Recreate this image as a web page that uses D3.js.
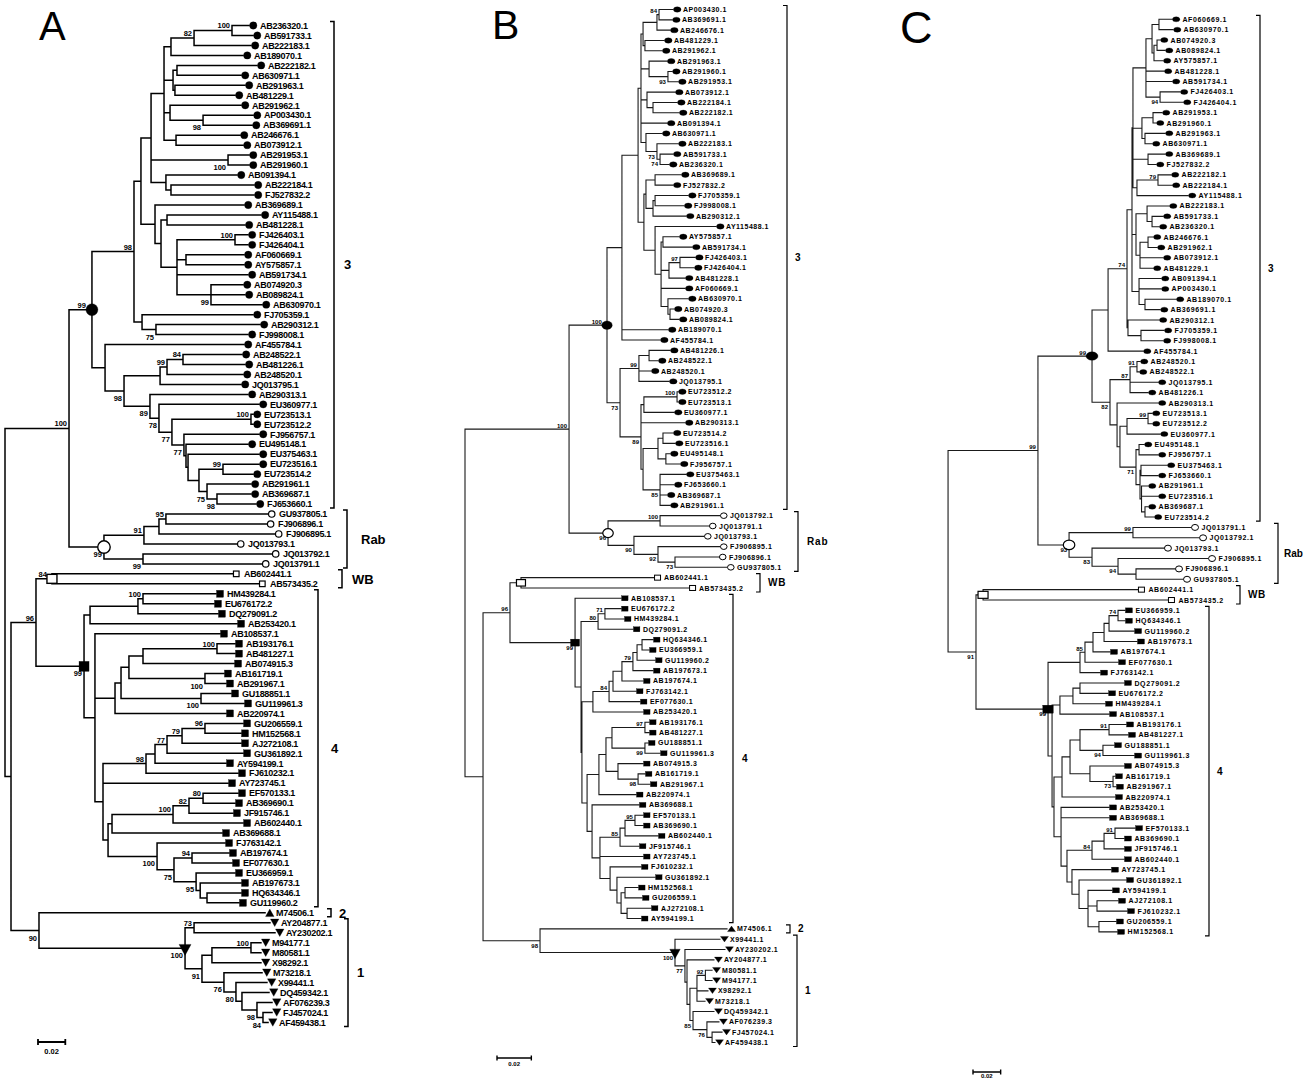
<!DOCTYPE html>
<html><head><meta charset="utf-8">
<script src="https://cdn.jsdelivr.net/npm/d3@7/dist/d3.min.js"></script>
<style>
html,body{margin:0;padding:0;background:#fff;}
svg{display:block;font-family:"Liberation Sans",Arial,Helvetica,sans-serif;}
</style></head><body>
<svg id="fig" width="1305" height="1079"></svg>
<script>
// ===================== DATA =====================
// Trees in Newick-like form. Value after ":" = distance from the root
// (substitutions per site); number after ")" = bootstrap support (%).
const treeA = `
(
 (
  (
   (
    (
     (
      (
       (((AB236320.1:0.1788,AB591733.1:0.1817)100:0.1663,AB222183.1:0.1802)82:0.1385,AB189070.1:0.1744):0.1216,
       ((AB222182.1:0.1846,AB630971.1:0.1729):0.1260,(AB291963.1:0.1758,AB481229.1:0.1685):0.1245):0.1231,
       (AB291962.1:0.1729,(AP003430.1:0.1817,AB369691.1:0.1810)98:0.1451):0.1209,
       (AB246676.1:0.1722,AB073912.1:0.1744):0.1253
      ):0.1165,
      (AB291953.1:0.1788,AB291960.1:0.1788)100:0.1634,
      (AB091394.1:0.1700,(AB222184.1:0.1824,FJ527832.2:0.1824):0.1216):0.1179
     ):0.1070,
     (AB369689.1:0.1751,
      ((AY115488.1:0.1875,AB481228.1:0.1758):0.1187,
       ((FJ426403.1:0.1780,FJ426404.1:0.1780)100:0.1685,(AF060669.1:0.1751,AY575857.1:0.1751):0.1326,AB591734.1:0.1780,
        (AB074920.3:0.1744,AB089824.1:0.1758,AB630970.1:0.1883)99:0.1509):0.1260
      ):0.1143
     ):0.1099
    ):0.0996,
    (FJ705359.1:0.1817,(AB290312.1:0.1868,FJ998008.1:0.1780)75:0.1106):0.1004
   )98:0.0945,
   (AF455784.1:0.1751,
    (
     (((AB248522.1:0.1736,AB481226.1:0.1758)84:0.1304,AB248520.1:0.1744)99:0.1187,JQ013795.1:0.1729):0.1136,
     (AB290313.1:0.1780,
      (EU360977.1:0.1861,
       ((EU723513.1:0.1817,EU723512.2:0.1817)100:0.1802,
        (FJ956757.1:0.1861,
         (EU495148.1:0.1780,
          (EU375463.1:0.1861,
           ((EU723516.1:0.1861,EU723514.2:0.1817)99:0.1597,
            (AB291961.1:0.1802,(AB369687.1:0.1802,FJ653660.1:0.1839)98:0.1553)75:0.1480
           ):0.1421
          ):0.1341
         ):0.1326
        )77:0.1311
       )77:0.1223
      )78:0.1128
     )89:0.1062
    )98:0.0872
   ):0.0733
  )99:0.0637,
  ((((GU937805.1:0.1927,FJ906896.1:0.1919)95:0.1179,FJ906895.1:0.1978):0.1128,JQ013793.1:0.1700)91:0.1018,
   (JQ013792.1:0.1956,JQ013791.1:0.1883)99:0.1011)99:0.0725
 )100:0.0469,
 (
  (
   (AB602441.1:0.1670,AB573435.2:0.1861)84:0.0344,
   (
    (((HM439284.1:0.1546,EU676172.2:0.1531)100:0.1011,DQ279091.2:0.1560):0.0974,AB253420.1:0.1700):0.0623,
    (AB108537.1:0.1575,
     (((((AB193176.1:0.1685,AB481227.1:0.1685)100:0.1553,AB074915.3:0.1678):0.1011,
        (AB161719.1:0.1604,AB291967.1:0.1619)100:0.1465):0.0908,
       (GU188851.1:0.1656,GU119961.3:0.1751)100:0.1436):0.0850,
      AB220974.1:0.1619):0.0806,
     (
      (((((GU206559.1:0.1744,HM152568.1:0.1729)96:0.1465,AJ272108.1:0.1729)79:0.1297,GU361892.1:0.1744)77:0.1187,AY594199.1:0.1619):0.1099,FJ610232.1:0.1707)98:0.1033,
      AY723745.1:0.1634,
      (
       ((((EF570133.1:0.1707,AB369690.1:0.1685)80:0.1451,JF915746.1:0.1670)82:0.1348,AB602440.1:0.1744)100:0.1231,AB369688.1:0.1590):0.0784,
       (FJ763142.1:0.1612,
        ((AB197674.1:0.1641,EF077630.1:0.1663)94:0.1370,
         (EU366959.1:0.1685,(AB197673.1:0.1729,(HQ634346.1:0.1729,GU119960.2:0.1714):0.1480):0.1430)95:0.1400
        )75:0.1238
       )100:0.1114
      ):0.0755
     ):0.0718
    ):0.0659
   )99:0.0579
  )96:0.0227,
  (M74506.1:0.1905,
   ((AY204877.1:0.1941,AY230202.1:0.1978)73:0.1385,
    (((M94177.1:0.1875,M80581.1:0.1875)100:0.1802,X98292.1:0.1875):0.1516,
     (M73218.1:0.1883,
      (X99441.1:0.1919,
       (DQ459342.1:0.1934,
        (AF076239.3:0.1956,(FJ457024.1:0.1956,AF459438.1:0.1927)84:0.1890)98:0.1846
       ):0.1736
      )80:0.1692
     )76:0.1604
    )91:0.1443
   )100:0.1319
  )90:0.0249
 ):0.0044
):0`;

const treeB = `
(
 (
  (
   (
    (
     (
      (((AP003430.1:0.1211,AB369691.1:0.1206)84:0.1130,AB246676.1:0.1194):0.1118,(AB481229.1:0.1159,AB291962.1:0.1147):0.1048):0.1037,
      (AB291963.1:0.1176,(AB291960.1:0.1206,AB291953.1:0.1241)93:0.1182):0.1072,
      (AB073912.1:0.1223,(AB222184.1:0.1235,AB222182.1:0.1246):0.1095):0.1060,
      AB091394.1:0.1176,
      (AB630971.1:0.1147,(AB222183.1:0.1241,(AB591733.1:0.1211,AB236320.1:0.1188)74:0.1136)73:0.1118):0.1054
     ):0.1025,
     (
      ((AB369689.1:0.1258,FJ527832.2:0.1211):0.1107,((FJ705359.1:0.1299,FJ998008.1:0.1275):0.1107,AB290312.1:0.1287):0.1095):0.1054,
      (AY115488.1:0.1462,
       ((AY575857.1:0.1246,AB591734.1:0.1322):0.1153,
        ((FJ426403.1:0.1340,FJ426404.1:0.1334)97:0.1252,AB481228.1:0.1281):0.1188,
        AF060669.1:0.1281,
        (AB630970.1:0.1299,(AB074920.3:0.1217,AB089824.1:0.1246):0.1194):0.1182
       ):0.1142
      ):0.1107
     ):0.1042
    ):0.1008,
    AB189070.1:0.1182,
    AF455784.1:0.1136
   ):0.0914,
   (
    ((AB481226.1:0.1194,AB248522.1:0.1124):0.1072,AB248520.1:0.1083,JQ013795.1:0.1188)99:0.1013,
    (
     ((EU723512.2:0.1241,EU723513.1:0.1241)100:0.1235,EU360977.1:0.1217):0.1042,
     AB290313.1:0.1281,
     (
      ((EU723514.2:0.1211,EU723516.1:0.1223):0.1153,(EU495148.1:0.1194,FJ956757.1:0.1252):0.1170):0.1124,
      (EU375463.1:0.1287,FJ653660.1:0.1217,AB369687.1:0.1176,AB291961.1:0.1194)85:0.1136
     ):0.1037
    )89:0.1025
   )73:0.0903
  )100:0.0827,
  ((JQ013792.1:0.1485,JQ013791.1:0.1421)100:0.1136,
   (JQ013793.1:0.1392,(FJ906895.1:0.1485,(FJ906896.1:0.1479,GU937805.1:0.1526)73:0.1223)92:0.1124)90:0.0984
  )96:0.0833
 )100:0.0606,
 (
  (
   (AB602441.1:0.1101,AB573435.2:0.1305):0.0326,
   (AB108537.1:0.0909,
    (
     ((EU676172.2:0.0909,HM439284.1:0.0926)71:0.0815,DQ279091.2:0.0978)80:0.0775,
     (
      (((((((HQ634346.1:0.1095,EU366959.1:0.1072):0.1031,GU119960.2:0.1107):0.1002,AB197673.1:0.1095)79:0.0978,AB197674.1:0.1037):0.0914,FJ763142.1:0.0996):0.0862,EF077630.1:0.1019)84:0.0839,AB253420.1:0.1037):0.0745,
      (
       ((((AB193176.1:0.1072,AB481227.1:0.1072)97:0.1048,(GU188851.1:0.1066,GU119961.3:0.1136)99:0.1048):0.0856,(AB074915.3:0.1037,(AB161719.1:0.1048,AB291967.1:0.1077)98:0.1008):0.0891):0.0821,AB220974.1:0.0996):0.0780,
       (AB369688.1:0.1013,
        (
         (((EF570133.1:0.1037,AB369690.1:0.1037)95:0.0990,AB602440.1:0.1124):0.0932,JF915746.1:0.1013)85:0.0903,
         AY723745.1:0.1037,
         (FJ610232.1:0.1025,(GU361892.1:0.1107,((HM152568.1:0.1008,GU206559.1:0.1031):0.0932,(AJ272108.1:0.1083,AY594199.1:0.1025):0.0944):0.0909):0.0885):0.0845
        ):0.0786
       ):0.0740
      ):0.0711
     ):0.0681
    ):0.0676
   )99:0.0641
  )96:0.0262,
  (M74506.1:0.1526,
   (X99441.1:0.1485,
    (AY230202.1:0.1514,
     (AY204877.1:0.1450,
      (((M80581.1:0.1439,M94177.1:0.1439)92:0.1400,X98292.1:0.1415,M73218.1:0.1398):0.1351,
       (DQ459342.1:0.1450,(AF076239.3:0.1479,(FJ457024.1:0.1497,AF459438.1:0.1456):0.1439)76:0.1409)85:0.1328
      ):0.1310
     ):0.1293
    )77:0.1281
   )100:0.1223
  )98:0.0437
 ):0.0105
):0`;

const treeC = `
(
 (
  (
   (
    (
     (
      (
       (
        ((AF060669.1:0.1670,AB630970.1:0.1678):0.1576,((AB074920.3:0.1584,AB089824.1:0.1620):0.1562,AY575857.1:0.1605):0.1540):0.1526,
        AB481228.1:0.1612,
        AB591734.1:0.1670,
        (FJ426403.1:0.1728,FJ426404.1:0.1750)94:0.1584
       ):0.1482,
       ((AB291953.1:0.1598,AB291960.1:0.1555):0.1533,(AB291963.1:0.1620,AB630971.1:0.1526):0.1475):0.1453,
       (AB369689.1:0.1620,FJ527832.2:0.1555):0.1497,
       ((AB222182.1:0.1663,AB222184.1:0.1670)79:0.1569,AY115488.1:0.1786):0.1417
      ):0.1388,
      ((AB222183.1:0.1649,(AB591733.1:0.1605,AB236320.1:0.1576):0.1526):0.1490,((AB246676.1:0.1533,AB291962.1:0.1562):0.1497,AB073912.1:0.1605,AB481229.1:0.1533):0.1439):0.1410,
      (AB091394.1:0.1591,AP003430.1:0.1591,(AB189070.1:0.1699,AB369691.1:0.1584):0.1475):0.1432
     ):0.1381,
     (AB290312.1:0.1576,(FJ705359.1:0.1612,FJ998008.1:0.1605):0.1446):0.1352
    )74:0.1345,
    AF455784.1:0.1461
   ):0.1208,
   (
    ((AB248520.1:0.1439,AB248522.1:0.1432)91:0.1417,JQ013795.1:0.1569,AB481226.1:0.1497)87:0.1367,
    (AB290313.1:0.1569,
     (
      ((EU723513.1:0.1526,EU723512.2:0.1526)99:0.1497,EU360977.1:0.1584):0.1345,
      ((EU495148.1:0.1468,FJ956757.1:0.1569):0.1432,
       ((EU375463.1:0.1634,FJ653660.1:0.1569):0.1446,(AB291961.1:0.1497,EU723516.1:0.1569,(AB369687.1:0.1497,EU723514.2:0.1540):0.1475):0.1450):0.1439
      )71:0.1410
     ):0.1294
    ):0.1273
   )82:0.1222
  )99:0.1092,
  ((JQ013791.1:0.1808,JQ013792.1:0.1866)99:0.1388,
   (JQ013793.1:0.1612,(FJ906895.1:0.1931,(FJ906896.1:0.1692,GU937805.1:0.1750):0.1410)94:0.1280)83:0.1092
  )93:0.0926
 )99:0.0701,
 (
  (AB602441.1:0.1424,AB573435.2:0.1641):0.0304,
  (
   ((((((EU366959.1:0.1330,HQ634346.1:0.1330)74:0.1280,GU119960.2:0.1396):0.1215,AB197673.1:0.1417):0.1179,AB197674.1:0.1222):0.1099,EF077630.1:0.1280)85:0.1041,FJ763142.1:0.1150):0.1005,
   (
    (((DQ279091.2:0.1323,EU676172.2:0.1208):0.1005,HM439284.1:0.1186):0.0954,AB108537.1:0.1215):0.0860,
    (
     ((((AB193176.1:0.1338,AB481227.1:0.1352)91:0.1215,(GU188851.1:0.1251,GU119961.3:0.1396)94:0.1171):0.1005,(AB074915.3:0.1323,(AB161719.1:0.1258,AB291967.1:0.1265)73:0.1244):0.1077):0.0933,AB220974.1:0.1258):0.0875,
     (AB253420.1:0.1215,AB369688.1:0.1215,
      ((((EF570133.1:0.1403,AB369690.1:0.1323)91:0.1258,JF915746.1:0.1323):0.1179,AB602440.1:0.1323)84:0.1092,
       (AY723745.1:0.1229,(GU361892.1:0.1338,(AY594199.1:0.1236,(AJ272108.1:0.1280,FJ610232.1:0.1345):0.1128,(GU206559.1:0.1265,HM152568.1:0.1273):0.1142):0.1063):0.0998):0.0947
      ):0.0911
     ):0.0868
    ):0.0817
   ):0.0803
  )99:0.0774
 )91:0.0253
):0.0051,
(M74506.1:0.1923,
 ((AY230202.1:0.1685,AY204877.1:0.1670):0.1446,
  X99441.1:0.1931,
  (((M80581.1:0.1735,M94177.1:0.1735)91:0.1714,X98292.1:0.1706)82:0.1612,
   (M73218.1:0.1641,(DQ459342.1:0.1714,(AF076239.3:0.1750,(AF459438.1:0.1750,FJ457024.1:0.1829)78:0.1706)78:0.1678):0.1576):0.1526
  ):0.1417
 )99:0.1359
)96:0.0296
):0`;

// Clade brackets: first and last sequence of each genotype group
const cladesA = [
  {name:"3",   first:"AB236320.1", last:"FJ653660.1"},
  {name:"Rab", first:"GU937805.1", last:"JQ013791.1"},
  {name:"WB",  first:"AB602441.1", last:"AB573435.2"},
  {name:"4",   first:"HM439284.1", last:"GU119960.2"},
  {name:"2",   first:"M74506.1",   last:"M74506.1"},
  {name:"1",   first:"AY204877.1", last:"AF459438.1"}
];
const cladesB = [
  {name:"3",   first:"AP003430.1", last:"AB291961.1"},
  {name:"Rab", first:"JQ013792.1", last:"GU937805.1"},
  {name:"WB",  first:"AB602441.1", last:"AB573435.2"},
  {name:"4",   first:"AB108537.1", last:"AY594199.1"},
  {name:"2",   first:"M74506.1",   last:"M74506.1"},
  {name:"1",   first:"X99441.1",   last:"AF459438.1"}
];
const cladesC = [
  {name:"3",   first:"AF060669.1", last:"EU723514.2"},
  {name:"Rab", first:"JQ013791.1", last:"GU937805.1"},
  {name:"WB",  first:"AB602441.1", last:"AB573435.2"},
  {name:"4",   first:"EU366959.1", last:"HM152568.1"},
  {name:"2",   first:"M74506.1",   last:"M74506.1"},
  {name:"1",   first:"AY230202.1", last:"FJ457024.1"}
];
const panelLetters = ["A", "B", "C"];
const scaleBarValue = 0.02;
const scaleBarLabel = "0.02";

// ===================== STYLE / LAYOUT =====================
const cladeStyle = {
  "3":   {shape:"circle",  filled:true,  key:"circle"},
  "Rab": {shape:"circle",  filled:false, key:"ocircle"},
  "WB":  {shape:"square",  filled:false, key:"osquare"},
  "4":   {shape:"square",  filled:true,  key:"square"},
  "2":   {shape:"triUp",   filled:true,  key:"tri"},
  "1":   {shape:"triDown", filled:true,  key:"tri"}
};
const layouts = [
 {x0:5, ppu:1365, y0:25.5, dy:9.97, stroke:"#000", sw:1.5, msw:1.2,
  lab:{size:9, ls:-0.3, dx:11}, sup:{size:7.5, above:2, below:10},
  tip:{circle:[7.4,7.4], ocircle:[6.4,6.4], square:[7,7], osquare:[5.6,5.6], tri:[8.5,7.5]},
  node:{circle:[12,12], ocircle:[12.5,12.5], square:[10,10], osquare:[10,9], tri:[12,11]},
  br:{x:{"3":334,"Rab":347,"WB":342,"4":318,"2":331,"1":348}, dx:{"3":10,"Rab":14,"WB":10,"4":13,"2":8,"1":9}, size:13, ls:{}, sw:1.5, tick:4},
  letter:{x:39, y:40, size:40},
  bar:{x:38, y:1042, ly:1054, size:7.5, tick:3}},
 {x0:465, ppu:1717, y0:9.5, dy:10.33, stroke:"#1a1a1a", sw:1.1, msw:1,
  lab:{size:7, ls:0.5, dx:10}, sup:{size:6, above:1.5, below:7},
  tip:{circle:[7.6,5.4], ocircle:[6.6,5.6], square:[6.5,5], osquare:[6,5], tri:[8,5.5]},
  node:{circle:[10.5,8.5], ocircle:[10.5,9], square:[9,7], osquare:[9,6.5], tri:[10.5,9.5]},
  br:{x:{"3":787,"Rab":798,"WB":760,"4":733,"2":790,"1":797}, dx:{"3":8,"Rab":9,"WB":8,"4":9,"2":8,"1":8}, size:10, ls:{"Rab":0.8,"WB":0.8}, sw:1.2, tick:4},
  letter:{x:492, y:39, size:41},
  bar:{x:497, y:1058, ly:1066, size:6, tick:2.5}},
 {x0:941, ppu:1383, y0:19.3, dy:10.37, stroke:"#1a1a1a", sw:1.1, msw:1,
  lab:{size:7, ls:0.6, dx:10.5}, sup:{size:6, above:1.5, below:7},
  tip:{circle:[7.4,5], ocircle:[7,6], square:[7,5], osquare:[6,5], tri:[8.5,6]},
  node:{circle:[12,8.5], ocircle:[11.5,9.5], square:[10.5,8], osquare:[10,7], tri:[13,10]},
  br:{x:{"3":1260,"Rab":1278,"WB":1240,"4":1209,"2":1270,"1":1270}, dx:{"3":8,"Rab":6,"WB":8,"4":8,"2":8,"1":8}, size:10, ls:{"WB":0.6}, sw:1.2, tick:4},
  letter:{x:900, y:43, size:45},
  bar:{x:973, y:1072, ly:1077.5, size:6, tick:2.5}}
];
const panels = [
  {tree:treeA, clades:cladesA, letter:panelLetters[0], L:layouts[0]},
  {tree:treeB, clades:cladesB, letter:panelLetters[1], L:layouts[1]},
  {tree:treeC, clades:cladesC, letter:panelLetters[2], L:layouts[2]}
];

// ===================== CODE =====================
function parseNewick(str) {
  const s = str.replace(/\s+/g, "");
  let i = 0;
  function readNode() {
    const node = {};
    if (s[i] === "(") {
      i++;
      node.children = [readNode()];
      while (s[i] === ",") { i++; node.children.push(readNode()); }
      i++; // ')'
    }
    let j = i;
    while (i < s.length && !"(),:;".includes(s[i])) i++;
    const label = s.slice(j, i);
    if (node.children) { if (label) node.support = +label; }
    else node.name = label;
    if (s[i] === ":") {
      i++; j = i;
      while (i < s.length && !"(),;".includes(s[i])) i++;
      node.dist = +s.slice(j, i);
    }
    return node;
  }
  return readNode();
}

function drawMarker(g, shape, filled, cx, cy, w, h, sw) {
  let el;
  if (shape === "circle") {
    el = g.append("ellipse").attr("cx", cx).attr("cy", cy).attr("rx", w / 2).attr("ry", h / 2);
  } else if (shape === "square") {
    el = g.append("rect").attr("x", cx - w / 2).attr("y", cy - h / 2).attr("width", w).attr("height", h);
  } else if (shape === "triUp") {
    el = g.append("path").attr("d", `M${cx - w/2},${cy + h/2}L${cx + w/2},${cy + h/2}L${cx},${cy - h/2}Z`);
  } else {
    el = g.append("path").attr("d", `M${cx - w/2},${cy - h/2}L${cx + w/2},${cy - h/2}L${cx},${cy + h/2}Z`);
  }
  el.attr("fill", filled ? "#000" : "#fff").attr("stroke", "#000").attr("stroke-width", filled ? 0.3 : sw);
}

const svg = d3.select("#fig");
svg.append("rect").attr("width", 1305).attr("height", 1079).attr("fill", "#fff");
// group opacity < 1 renders text with greyscale antialiasing (like the reference)
const canvas = svg.append("g").attr("opacity", 0.999);

function drawPanel(p) {
  const L = p.L;
  const root = d3.hierarchy(parseNewick(p.tree));
  const leaves = root.leaves();
  const x = d3.scaleLinear().domain([0, 0.1]).range([L.x0, L.x0 + L.ppu * 0.1]);
  const y = d3.scaleLinear().domain([0, leaves.length - 1]).range([L.y0, L.y0 + L.dy * (leaves.length - 1)]);
  leaves.forEach((d, k) => { d.k = k; d.py = y(k); });
  root.eachAfter(d => { if (d.children) d.py = (d.children[0].py + d.children[d.children.length - 1].py) / 2; });
  root.each(d => { d.px = x(d.data.dist || 0); });

  const g = canvas.append("g");

  // branches
  const path = d3.path();
  root.each(d => {
    if (d.parent) { path.moveTo(d.parent.px, d.py); path.lineTo(d.px, d.py); }
    if (d.children) { path.moveTo(d.px, d.children[0].py); path.lineTo(d.px, d.children[d.children.length - 1].py); }
  });
  g.append("path").attr("d", path.toString()).attr("fill", "none")
    .attr("stroke", L.stroke).attr("stroke-width", L.sw).attr("stroke-linecap", "square");

  // clades
  const idx = new Map(leaves.map(d => [d.data.name, d.k]));
  const clades = p.clades.map(c => ({...c, i0: idx.get(c.first), i1: idx.get(c.last)}))
                         .filter(c => c.i0 !== undefined && c.i1 !== undefined);
  const cladeOf = k => clades.find(c => k >= c.i0 && k <= c.i1);

  // clade root markers
  const markedNodes = new Map();
  clades.forEach(c => {
    if (c.i0 === c.i1) return;
    const st = cladeStyle[c.name];
    const mrca = leaves[c.i0].ancestors().find(a => a.leaves().some(l => l.k === c.i1));
    const [w, h] = L.node[st.key];
    markedNodes.set(mrca, w);
    drawMarker(g, st.shape, st.filled, mrca.px, mrca.py + (st.shape === "triDown" ? h * 0.15 : 0), w, h, L.msw + 0.2);
  });

  // tips
  leaves.forEach(d => {
    const c = cladeOf(d.k);
    const st = cladeStyle[c ? c.name : "3"];
    const [w, h] = L.tip[st.key];
    drawMarker(g, st.shape, st.filled, d.px + w / 2 + 0.5, d.py, w, h, L.msw);
    g.append("text").attr("x", d.px + L.lab.dx).attr("y", d.py).attr("dy", "0.36em")
      .attr("font-size", L.lab.size).attr("font-weight", "bold").attr("letter-spacing", L.lab.ls)
      .attr("fill", "#000").text(d.data.name);
  });

  // bootstrap support
  root.each(d => {
    if (!d.children || d.data.support == null || !d.parent) return;
    const first = d.parent.children[0] === d;
    const mw = markedNodes.get(d);
    const xx = first ? d.px - (mw ? mw / 2 : 2) : d.px - 2;
    const yy = first ? d.py - L.sup.above : d.py + L.sup.below;
    g.append("text").attr("x", xx).attr("y", yy).attr("text-anchor", "end")
      .attr("font-size", L.sup.size).attr("font-weight", "bold").attr("fill", "#000")
      .text(d.data.support);
  });

  // brackets
  clades.forEach(c => {
    const bx = L.br.x[c.name];
    const y1 = y(c.i0) - 4, y2 = y(c.i1) + 4;
    const bp = d3.path();
    bp.moveTo(bx - L.br.tick, y1); bp.lineTo(bx, y1); bp.lineTo(bx, y2); bp.lineTo(bx - L.br.tick, y2);
    g.append("path").attr("d", bp.toString()).attr("fill", "none").attr("stroke", "#000").attr("stroke-width", L.br.sw);
    g.append("text").attr("x", bx + L.br.dx[c.name]).attr("y", (y1 + y2) / 2).attr("dy", "0.36em")
      .attr("font-size", L.br.size).attr("font-weight", "bold").attr("letter-spacing", L.br.ls[c.name] || 0)
      .text(c.name);
  });

  // panel letter
  g.append("text").attr("x", L.letter.x).attr("y", L.letter.y).attr("font-size", L.letter.size)
    .attr("fill", "#000").text(p.letter);

  // scale bar
  const len = x(scaleBarValue) - x(0);
  const sb = d3.path();
  sb.moveTo(L.bar.x, L.bar.y); sb.lineTo(L.bar.x + len, L.bar.y);
  sb.moveTo(L.bar.x, L.bar.y - L.bar.tick); sb.lineTo(L.bar.x, L.bar.y + L.bar.tick);
  sb.moveTo(L.bar.x + len, L.bar.y - L.bar.tick); sb.lineTo(L.bar.x + len, L.bar.y + L.bar.tick);
  g.append("path").attr("d", sb.toString()).attr("fill", "none").attr("stroke", "#000").attr("stroke-width", L.sw + 0.3);
  g.append("text").attr("x", L.bar.x + len / 2).attr("y", L.bar.ly).attr("text-anchor", "middle")
    .attr("font-size", L.bar.size).attr("font-weight", "bold").text(scaleBarLabel);
}

panels.forEach(drawPanel);
</script>
</body></html>
